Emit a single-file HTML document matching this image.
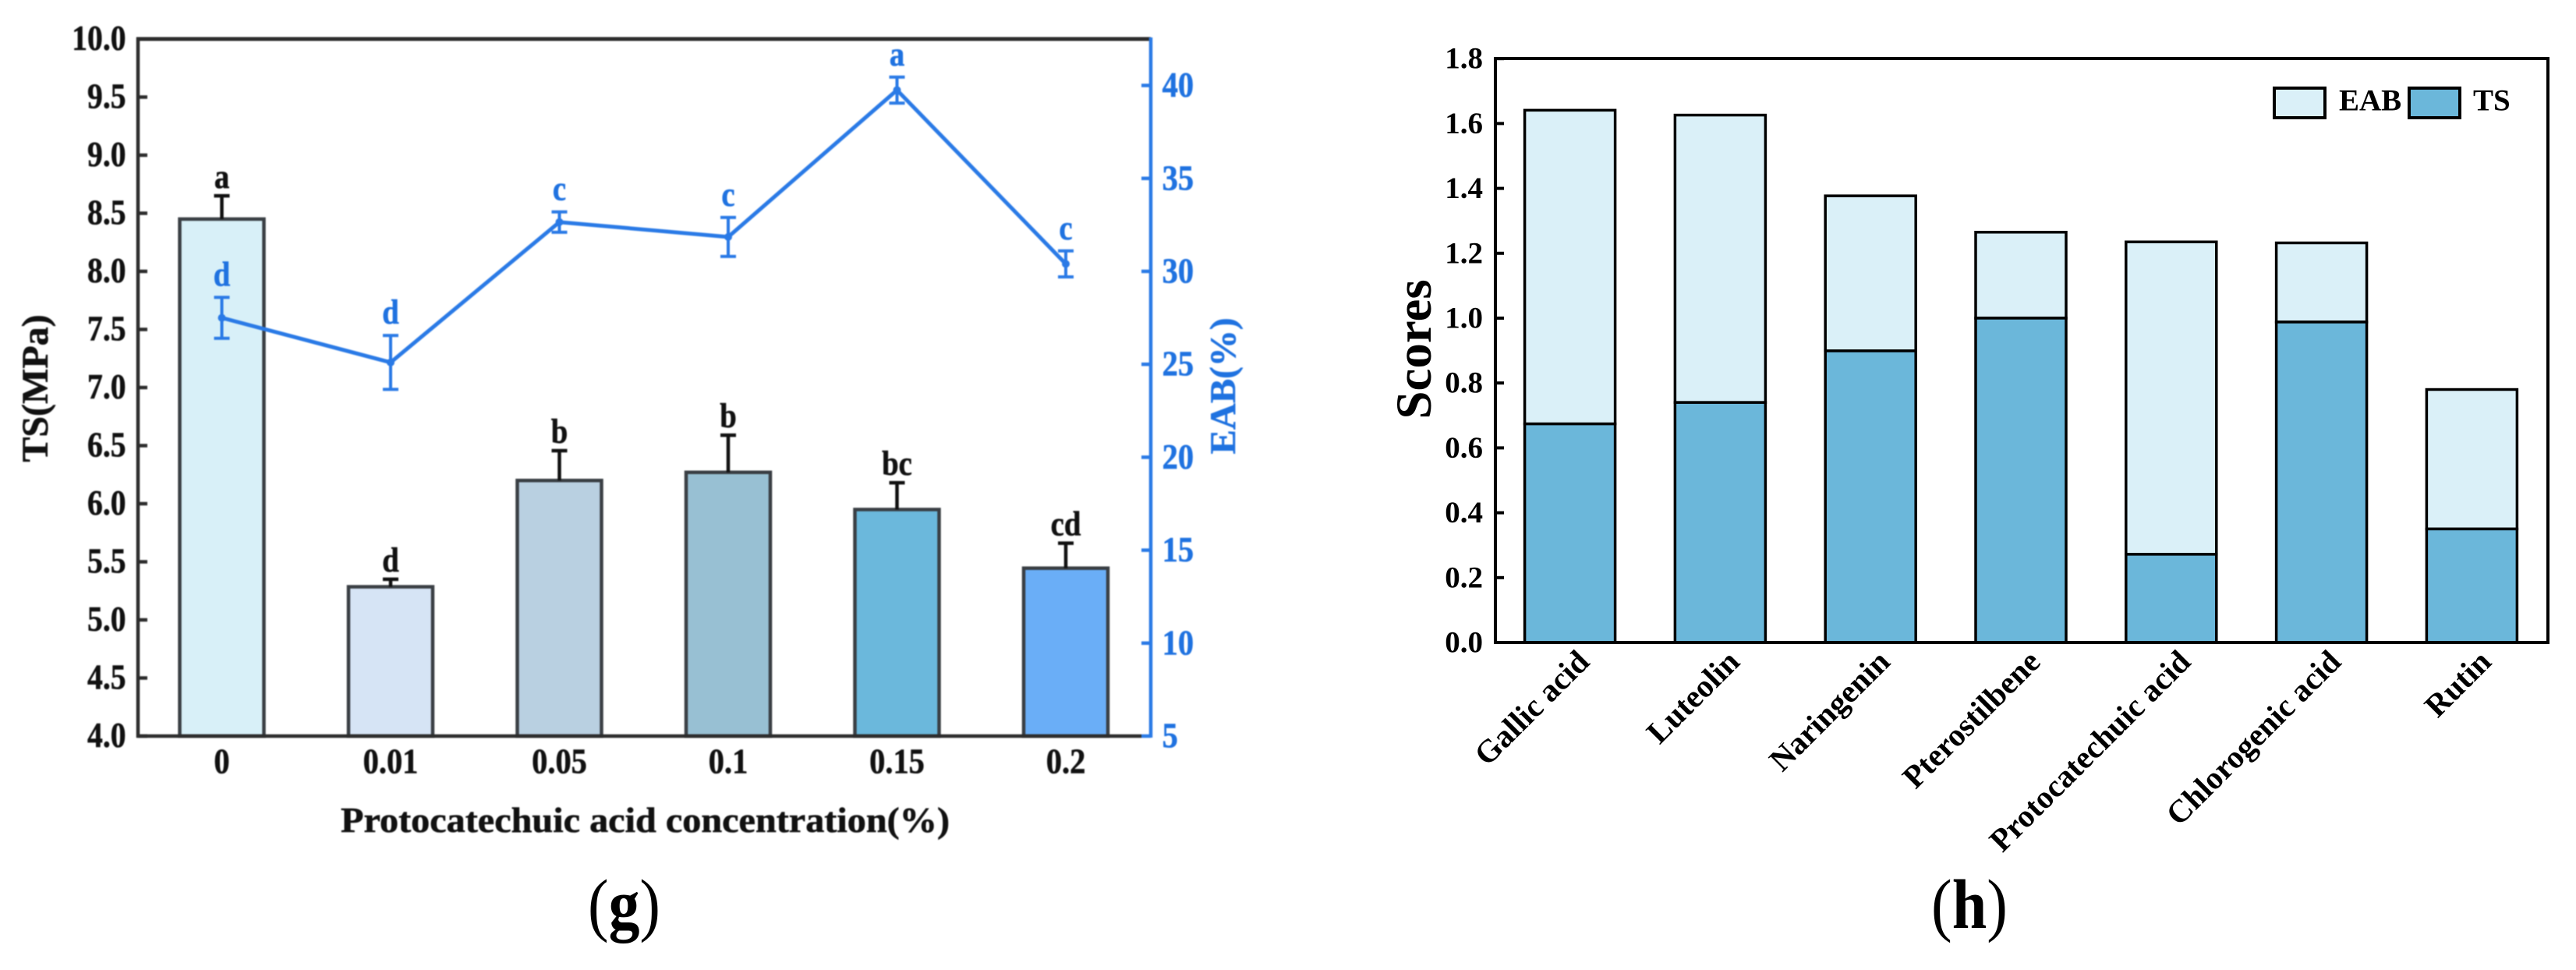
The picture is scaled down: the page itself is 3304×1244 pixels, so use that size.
<!DOCTYPE html>
<html lang="en">
<head>
<meta charset="utf-8">
<title>TS and EAB charts</title>
<style>
html,body{margin:0;padding:0;background:#fff;}
svg{display:block;}
text{font-family:"Liberation Serif",serif;font-weight:bold;}
#chart-g{filter:blur(0.8px);}
#chart-g text{stroke:currentColor;stroke-width:0.6px;}
</style>
</head>
<body>
<svg id="figure" xmlns="http://www.w3.org/2000/svg" width="3304" height="1244" viewBox="0 0 3304 1244">
  <rect width="3304" height="1244" fill="#fff"/>
  <g id="chart-g">
    <text transform="translate(61,498) rotate(-90)" text-anchor="middle" font-size="48" fill="#111" color="#111">TS(MPa)</text>
    <text transform="translate(1584,495) rotate(-90)" text-anchor="middle" font-size="47" fill="#1f72e0" color="#1f72e0">EAB(%)</text>
    <text x="437" y="1067" font-size="46" fill="#111" color="#111" textLength="781" lengthAdjust="spacingAndGlyphs">Protocatechuic acid concentration(%)</text>
  </g>
  <g id="chart-h">
    <text transform="translate(1835,448) rotate(-90)" text-anchor="middle" font-size="65" fill="#000">Scores</text>
    <g>
      <rect x="2917" y="113" width="65" height="38" fill="#daf0f8" stroke="#000" stroke-width="4"/>
      <text x="3000" y="141.6" font-size="39" fill="#000">EAB</text>
      <rect x="3090" y="113" width="65" height="38" fill="#6bb7da" stroke="#000" stroke-width="4"/>
      <text x="3172" y="141.6" font-size="39" fill="#000">TS</text>
    </g>
  </g>
  <text x="754" y="1190" font-size="90" fill="#000" textLength="93" lengthAdjust="spacingAndGlyphs"><tspan font-weight="normal">(</tspan>g<tspan font-weight="normal">)</tspan></text>
  <text x="2477" y="1190" font-size="90" fill="#000" textLength="98" lengthAdjust="spacingAndGlyphs"><tspan font-weight="normal">(</tspan>h<tspan font-weight="normal">)</tspan></text>
</svg>
<script>
// Panel (g) data
const gCategories = ['0', '0.01', '0.05', '0.1', '0.15', '0.2'];
const tsValues = [8.45, 5.285, 6.2, 6.27, 5.95, 5.445];
const tsErrors = [0.2, 0.065, 0.256, 0.32, 0.23, 0.215];
const tsLetters = ['a', 'd', 'b', 'b', 'bc', 'cd'];
const eabValues = [27.5, 25.1, 32.65, 31.85, 39.75, 30.4];
const eabErrors = [1.1, 1.45, 0.55, 1.05, 0.7, 0.7];
const eabLetters = ['d', 'd', 'c', 'c', 'a', 'c'];
const tsTicks = ['4.0', '4.5', '5.0', '5.5', '6.0', '6.5', '7.0', '7.5', '8.0', '8.5', '9.0', '9.5', '10.0'];
const eabTicks = ['5', '10', '15', '20', '25', '30', '35', '40'];
const gBarColors = ['#d8f0f8', '#d6e4f5', '#b9d0e1', '#98c0d3', '#6bb8dc', '#6aaef7'];

// Panel (h) data
const hCategories = ['Gallic acid', 'Luteolin', 'Naringenin', 'Pterostilbene', 'Protocatechuic acid', 'Chlorogenic acid', 'Rutin'];
const hTsValues = [0.674, 0.74, 0.899, 1.0, 0.272, 0.988, 0.35];
const hEabValues = [0.967, 0.886, 0.478, 0.265, 0.963, 0.244, 0.43];
const scoreTicks = ['0.0', '0.2', '0.4', '0.6', '0.8', '1.0', '1.2', '1.4', '1.6', '1.8'];

const SVG_NS = 'http://www.w3.org/2000/svg';
const BLUE = '#2a7ae6';
const BLUE_TEXT = '#1f72e0';
const DARK = '#2c2c2c';
const INK = '#111';

function mk(parent, tag, attrs) {
  const el = document.createElementNS(SVG_NS, tag);
  for (const k in attrs) el.setAttribute(k, attrs[k]);
  parent.appendChild(el);
  return el;
}
function txt(parent, x, y, str, size, fill, anchor, sx, rot) {
  const el = mk(parent, 'text', {
    transform: 'translate(' + x + ',' + y + ')' + (rot ? ' rotate(' + rot + ')' : '') + ' scale(' + (sx || 1) + ',1)',
    'font-size': size, fill: fill, color: fill, 'text-anchor': anchor
  });
  el.textContent = str;
  return el;
}

// Axis functions, panel g
const gLeft = 177, gRight = 1476, gTop = 50, gBottom = 944;
const gX = i => 284.5 + 216.5 * i;
const tsY = v => gBottom - (v - 4) / 6 * (gBottom - gTop);
const eabY = v => gBottom - (v - 5) * 23.84;
const gBarW = 108;

// Axis functions, panel h
const hLeft = 1918, hRight = 3268, hTop = 75, hBottom = 824;
const hX = i => 2013.6 + 192.8 * i;
const scoreY = v => hBottom - v * 416;
const hBarW = 116;

const chartG = document.getElementById('chart-g');
const chartH = document.getElementById('chart-h');

// ---- Panel g: bars
gCategories.forEach((cat, i) => {
  const top = tsY(tsValues[i]);
  const bar = mk(chartG, 'rect', { x: gX(i) - gBarW / 2, y: top, width: gBarW, height: gBottom - top, fill: gBarColors[i], stroke: '#3a3f44', 'stroke-width': 4.5 });
  
  

  const errTop = tsY(tsValues[i] + tsErrors[i]);
  const stem = mk(chartG, 'line', { x1: gX(i), x2: gX(i), y1: top, y2: errTop, stroke: INK, 'stroke-width': 4.5 });
  
  
  const cap = mk(chartG, 'line', { x1: gX(i) - 10, x2: gX(i) + 10, y1: errTop, y2: errTop, stroke: INK, 'stroke-width': 4.5 });
  
  

  const letter = txt(chartG, gX(i), errTop - 10, tsLetters[i], 44, INK, 'middle', 0.88);
  
  

  const label = txt(chartG, gX(i), 991.7, cat, 46, INK, 'middle', 0.88);
  
  
});

// ---- Panel g: axes
const gFrameLeft = mk(chartG, 'line', { x1: gLeft, x2: gLeft, y1: gTop - 2, y2: gBottom + 2, stroke: DARK, 'stroke-width': 4.5 });


const gFrameTop = mk(chartG, 'line', { x1: gLeft - 2, x2: gRight, y1: gTop, y2: gTop, stroke: DARK, 'stroke-width': 5 });


const gFrameBottom = mk(chartG, 'line', { x1: gLeft - 2, x2: gRight - 12, y1: gBottom, y2: gBottom, stroke: DARK, 'stroke-width': 4.5 });


const gFrameRight = mk(chartG, 'line', { x1: gRight, x2: gRight, y1: gTop - 2, y2: gBottom + 2, stroke: BLUE, 'stroke-width': 4.5 });



tsTicks.forEach(t => {
  const y = tsY(parseFloat(t));
  const tick = mk(chartG, 'line', { x1: gLeft, x2: gLeft + 12, y1: y, y2: y, stroke: DARK, 'stroke-width': 4.5 });
  
  
  const label = txt(chartG, 161.5, y + 14, t, 46, INK, 'end', 0.86);
  
  
});
eabTicks.forEach(t => {
  const y = eabY(parseFloat(t));
  const tick = mk(chartG, 'line', { x1: gRight - 12, x2: gRight, y1: y, y2: y, stroke: BLUE, 'stroke-width': 4.5 });
  
  
  const label = txt(chartG, 1490.6, y + 14.5, t, 46, BLUE_TEXT, 'start', 0.88);
  
  
});

// ---- Panel g: EAB line
const eabLine = mk(chartG, 'polyline', {
  points: eabValues.map((v, i) => gX(i) + ',' + eabY(v)).join(' '),
  fill: 'none', stroke: BLUE, 'stroke-width': 5, 'stroke-linejoin': 'round'
});



eabValues.forEach((v, i) => {
  const hi = eabY(v + eabErrors[i]), lo = eabY(v - eabErrors[i]);
  const stem = mk(chartG, 'line', { x1: gX(i), x2: gX(i), y1: hi, y2: lo, stroke: BLUE, 'stroke-width': 4 });
  
  
  const capHi = mk(chartG, 'line', { x1: gX(i) - 10, x2: gX(i) + 10, y1: hi, y2: hi, stroke: BLUE, 'stroke-width': 4 });
  
  
  const capLo = mk(chartG, 'line', { x1: gX(i) - 10, x2: gX(i) + 10, y1: lo, y2: lo, stroke: BLUE, 'stroke-width': 4 });
  
  
  const pt = mk(chartG, 'circle', { cx: gX(i), cy: eabY(v), r: 5, fill: BLUE });
  
  
  const letter = txt(chartG, gX(i), hi - 15, eabLetters[i], 44, BLUE_TEXT, 'middle', 0.88);
  
  
});

// ---- Panel h: stacked bars
hCategories.forEach((cat, i) => {
  const tsTop = scoreY(hTsValues[i]);
  const totalTop = scoreY(hTsValues[i] + hEabValues[i]);
  const eabBar = mk(chartH, 'rect', { x: hX(i) - hBarW / 2, y: totalTop, width: hBarW, height: tsTop - totalTop, fill: '#daf0f8', stroke: '#000', 'stroke-width': 3.5 });
  
  
  const tsBar = mk(chartH, 'rect', { x: hX(i) - hBarW / 2, y: tsTop, width: hBarW, height: hBottom - tsTop, fill: '#6bb7da', stroke: '#000', 'stroke-width': 3.5 });
  
  
  const label = txt(chartH, hX(i) + 27, 851, cat, 41, '#000', 'end', 1, -45);
  
  
});

// ---- Panel h: axes
const hFrame = mk(chartH, 'rect', { x: hLeft, y: hTop, width: hRight - hLeft, height: hBottom - hTop, fill: 'none', stroke: '#000', 'stroke-width': 4 });



scoreTicks.forEach(t => {
  const y = scoreY(parseFloat(t));
  const tick = mk(chartH, 'line', { x1: hLeft, x2: hLeft + 11, y1: y, y2: y, stroke: '#000', 'stroke-width': 4 });
  
  
  const label = txt(chartH, 1902, y + 12.5, t, 39, '#000', 'end', 1);
  
  
});
</script>
</body>
</html>
